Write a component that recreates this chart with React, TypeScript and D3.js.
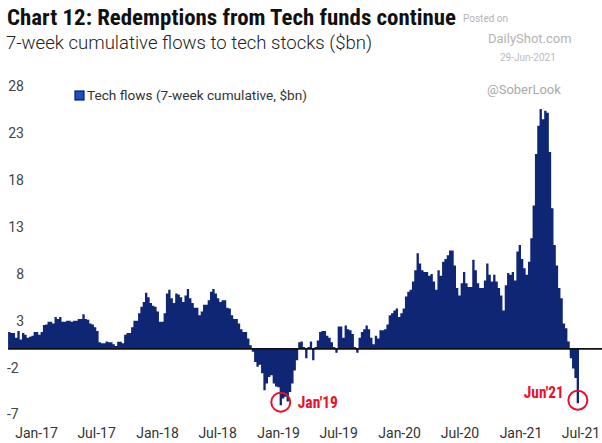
import React from "react";
import * as d3 from "d3";

// ---- data -------------------------------------------------------------
const START_DATE = "2016-10-07"; // first weekly observation
const flows: number[] = [
  1.8, 1.7, 1.7, 1.2, 1.9, 1.0, 1.7, 1.5, 1.2, 1.3,
  1.4, 1.8, 1.8, 1.5, 1.8, 2.55, 2.6, 2.9, 2.9, 2.7,
  3.4, 3.2, 3.4, 2.9, 2.9, 3.0, 3.0, 2.9, 3.0, 3.0,
  3.2, 3.2, 3.7, 3.2, 3.1, 2.7, 2.6, 2.3, 1.9, 0.7,
  0.6, 0.6, 0.8, 0.7, 0.7, 0.5, 0.3, 0.75, 0.75, 0.6,
  1.5, 1.7, 1.7, 2.3, 3.0, 3.0, 3.8, 4.5, 5.0, 6.0,
  5.5, 4.9, 4.6, 4.5, 4.0, 2.9, 2.9, 3.8, 5.9, 6.3,
  5.4, 4.9, 5.9, 5.8, 5.5, 5.0, 5.7, 6.4, 5.4, 4.9,
  4.4, 4.4, 3.6, 4.0, 4.7, 4.7, 5.2, 6.1, 6.4, 5.9,
  5.4, 5.0, 5.2, 5.2, 4.4, 4.3, 3.6, 3.2, 3.2, 2.7,
  2.1, 1.8, 1.8, 1.1, 0.4, -0.3, -1.4, -1.9, -1.7, -2.6,
  -4.4, -3.7, -3.0, -2.8, -3.7, -4.0, -4.1, -6.0, -5.3, -5.1,
  -5.6, -4.6, -3.7, -2.3, -1.2, 0.7, 0.8, 0.2, -1.0, 0.2,
  0.8, -1.2, 0.2, 0.9, 1.8, 1.9, 1.9, 1.4, 1.2, 0.7,
  0.2, -0.4, 2.4, 2.4, 1.2, 2.5, 2.1, 2.0, 1.6, 0.2,
  -0.4, 1.2, 1.8, 2.1, 2.5, 2.1, 1.2, 0.5, 1.4, 1.1,
  2.0, 2.0, 2.1, 2.6, 3.6, 3.8, 4.1, 4.3, 3.4, 3.8,
  4.3, 5.6, 6.1, 6.3, 7.2, 8.4, 10.2, 9.1, 8.4, 8.2,
  8.2, 7.8, 8.0, 7.2, 6.3, 8.4, 7.8, 9.3, 9.6, 10.0,
  10.5, 10.5, 8.9, 6.5, 5.7, 7.0, 8.2, 7.0, 6.6, 6.6,
  9.5, 8.4, 7.0, 6.5, 6.5, 7.3, 9.1, 7.9, 7.2, 7.9,
  7.2, 6.5, 5.7, 4.1, 6.8, 8.1, 7.9, 8.2, 7.3, 10.4,
  11.1, 9.6, 8.6, 7.9, 9.3, 11.8, 15.3, 20.8, 23.8, 25.6,
  24.5, 25.4, 25.2, 21.0, 15.0, 11.1, 8.9, 6.5, 5.4, 2.7,
  2.2, 0.8, -1.0, -2.1, -3.1, -5.8,
];

const xTickLabels = ["Jan-17", "Jul-17", "Jan-18", "Jul-18", "Jan-19", "Jul-19", "Jan-20", "Jul-20", "Jan-21", "Jul-21"];
const xTickDates = ["2017-01-01", "2017-07-01", "2018-01-01", "2018-07-01", "2019-01-01", "2019-07-01", "2020-01-01", "2020-07-01", "2021-01-01", "2021-07-01"];
const yTicks = [28, 23, 18, 13, 8, 3, -2, -7];

const annotationLabels = ["Jan'19", "Jun'21"];
const annotationIndex = [117, 245];

const TITLE = "Chart 12: Redemptions from Tech funds continue";
const SUBTITLE = "7-week cumulative flows to tech stocks ($bn)";
const LEGEND = "Tech flows (7-week cumulative, $bn)";

// ---- chart ------------------------------------------------------------
const W = 602;
const H = 443;
const DAY = 86400000;
const parse = (s: string) => new Date(s + "T00:00:00Z");
const start = parse(START_DATE);
const dateAt = (i: number) => new Date(start.getTime() + i * 7 * DAY);

const FILL = "#0e2674";
const RED = "#e8112d";
const FONT = "'Liberation Sans Narrow', 'Roboto Condensed', 'DejaVu Sans Condensed', Roboto, sans-serif";
const FONT2 = "Roboto, 'Noto Sans', sans-serif";

export default function App() {
  const x = d3.scaleUtc().domain([parse("2017-01-01"), parse("2021-07-01")]).range([36.6, 581]);
  const y = d3.scaleLinear().domain([-7, 28]).range([414.5, 86.5]);

  const pts = flows.map((v, i) => ({ d: dateAt(i), v }));
  pts.push({ d: dateAt(flows.length), v: flows[flows.length - 1] });

  const area = d3
    .area<{ d: Date; v: number }>()
    .x((p) => x(p.d))
    .y0(y(0))
    .y1((p) => y(p.v))
    .curve(d3.curveStepAfter);

  const x0 = x(start);

  return (
    <svg width={W} height={H} style={{ position: "absolute", left: 0, top: 0, background: "#fff" }}>
      <rect width={W} height={H} fill="#fff" />
      {/* titles */}
      <text x={7} y={25} fontFamily={FONT} fontWeight={700} fontSize={22} fill="#111" textLength={449} lengthAdjust="spacingAndGlyphs">
        {TITLE}
      </text>
      <text x={6} y={49} fontFamily={FONT2} fontWeight={300} fontSize={19} fill="#222" textLength={366} lengthAdjust="spacingAndGlyphs">
        {SUBTITLE}
      </text>
      {/* watermark */}
      <text x={463} y={22} fontFamily={FONT2} fontSize={10} fill="#b4b4b4">Posted on</text>
      <text x={488} y={43} fontFamily={FONT2} fontSize={13} fill="#b4b4b4">DailyShot.com</text>
      <text x={500} y={61} fontFamily={FONT2} fontSize={10} fill="#bcbcbc">29-Jun-2021</text>
      <text x={487} y={94} fontFamily={FONT2} fontSize={13} fill="#aaaaaa">@SoberLook</text>

      {/* legend */}
      <rect x={75} y={91} width={9} height={9} fill="#1d4fc0" stroke="#0a1d5e" strokeWidth={1.2} />
      <text x={87} y={100} fontFamily={FONT2} fontSize={13.5} fill="#333" textLength={220} lengthAdjust="spacingAndGlyphs">
        {LEGEND}
      </text>

      {/* y labels */}
      {yTicks.map((t) => (
        <text
          key={t}
          x={t < 0 ? 7 : 24}
          y={y(t)}
          dy="0.35em"
          textAnchor={t < 0 ? "start" : "end"}
          fontFamily={FONT2}
          fontSize={14}
          fill="#444"
        >
          {t}
        </text>
      ))}

      {/* area */}
      <path d={area(pts) || ""} fill={FILL} />
      <line x1={x0} x2={W} y1={y(0)} y2={y(0)} stroke="#111" strokeWidth={1.6} />

      {/* x labels */}
      {xTickLabels.map((lab, i) => (
        <text key={lab} x={x(parse(xTickDates[i]))} y={438} textAnchor="middle" fontFamily={FONT2} fontSize={14} fill="#333">
          {lab}
        </text>
      ))}

      {/* annotations */}
      {annotationLabels.map((lab, k) => {
        const i = annotationIndex[k];
        const cx = x(new Date(dateAt(i).getTime() + 3.5 * DAY));
        const cy = y(flows[i]) - 3;
        const right = k === 0;
        return (
          <g key={lab}>
            <circle cx={cx} cy={cy} r={9.5} fill="none" stroke={RED} strokeWidth={2} />
            <text
              x={right ? cx + 17 : cx - 14}
              y={right ? cy + 6 : cy - 2}
              textAnchor={right ? "start" : "end"}
              fontFamily={FONT}
              fontWeight={700}
              fontSize={16}
              fill={RED}
              textLength={40}
              lengthAdjust="spacingAndGlyphs"
            >
              {lab}
            </text>
          </g>
        );
      })}
    </svg>
  );
}
